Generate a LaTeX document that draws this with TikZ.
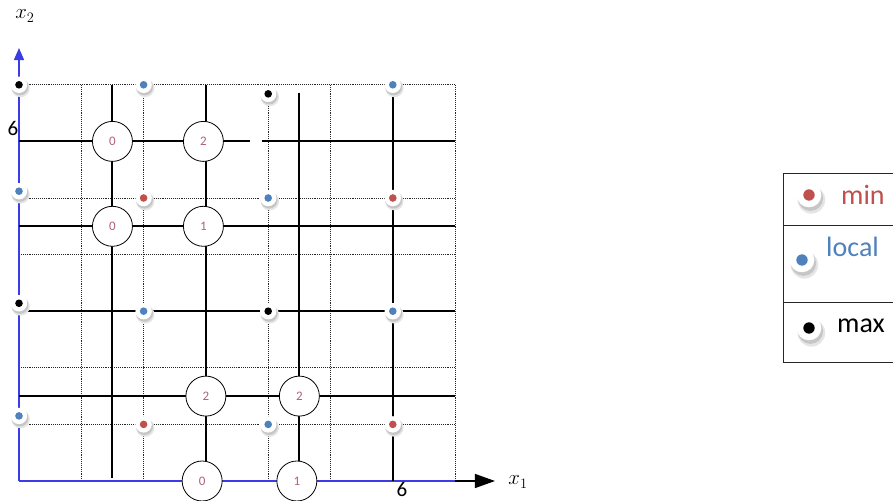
\documentclass[tikz,border=0pt]{standalone}
\usepackage{fontspec}
\setmainfont{Carlito}
\usetikzlibrary{arrows.meta}
\definecolor{cred}{HTML}{C0504D}
\definecolor{cblue}{HTML}{4F81BD}
\definecolor{cpink}{HTML}{B06080}
\definecolor{axblue}{HTML}{3C3CE6}
\newcommand\btn[3]{%
  \begin{scope}[shift={#1},scale=#3]
    \fill[gray!20] (1.6pt,-3.2pt) circle[radius=9.2pt];
    \fill[gray!45] (1.0pt,-2.2pt) circle[radius=8.4pt];
    \fill[white] (0,0) circle[radius=8.2pt];
    \fill[#2] (0,0) circle[radius=3.8pt];
  \end{scope}}
\begin{document}
\begin{tikzpicture}[x=1pt,y=1pt,
  solidline/.style={line width=2pt,black},
  gridline/.style={dash pattern=on 0.8pt off 1.1pt,line width=0.9pt,black!85},
  numc/.style={circle,draw,line width=0.8pt,fill=white,minimum size=40pt,inner sep=0pt,
    font=\fontsize{13}{13}\selectfont,text=cpink},
  lbl/.style={inner sep=0pt,font=\fontsize{21}{21}\selectfont},
  mlbl/.style={inner sep=0pt,font=\fontsize{20}{20}\selectfont},
  legtext/.style={anchor=west,inner sep=0pt,font=\fontsize{28}{28}\selectfont}]
\useasboundingbox (0,0) rectangle (893,500);
\fill[white] (0,0) rectangle (893,500);
\begin{scope}[shift={(19,19)},x=62.3pt,y=56.6pt]
  % dotted grid
  \foreach \i in {1,2,4,5,7} \draw[gridline] (\i,0) -- (\i,7);
  \foreach \j in {1,2,4,5,7} \draw[gridline] (0,\j) -- (7,\j);
  % axes
  \coordinate (O) at (0,0);
  \coordinate (ytip) at (0,7.65);
  \coordinate (xend) at (7,0);
  \coordinate (xtip) at (7.64,0);
  \draw[line width=1.4pt,axblue,-{Triangle[length=12pt,width=10pt]}] (O) -- (ytip);
  \draw[line width=1.4pt,axblue] (O) -- (xend);
  \draw[line width=1.2pt,black,-{Triangle[length=20pt,width=14pt]}] (xend) -- (xtip);
  % solid lines
  \draw[solidline] (0,6) -- (3.71,6);
  \draw[solidline] (3.90,6) -- (7,6);
  \draw[solidline] (0,4.5) -- (7,4.5);
  \draw[solidline] (0,3) -- (7,3);
  \draw[solidline] (0,1.5) -- (7,1.5);
  \draw[solidline] (1.5,7) -- (1.5,0.05);
  \draw[solidline] (3,7) -- (3,0);
  \draw[solidline] (4.5,6.86) -- (4.5,0);
  \draw[solidline] (6,7) -- (6,0);
  % numbered circles
  \node[numc] (a1) at (2.96,6) {2};
  \node[numc] (a0) at (1.5,6) {0};
  \node[numc] (b0) at (1.5,4.5) {0};
  \node[numc] (b1) at (2.96,4.5) {1};
  \node[numc] (c1) at (3,1.5) {2};
  \node[numc] (c2) at (4.5,1.5) {2};
  \node[numc] (d0) at (2.94,0) {0};
  \node[numc] (d1) at (4.46,0) {1};
  % buttons
  \btn{(0,7)}{black}{1}
  \btn{(2,7)}{cblue}{1}
  \btn{(4,6.84)}{black}{1}
  \btn{(6,7)}{cblue}{1}
  \btn{(0,5.12)}{cblue}{1}
  \btn{(2,5)}{cred}{1}
  \btn{(4,5)}{cblue}{1}
  \btn{(6,5)}{cred}{1}
  \btn{(0,3.14)}{black}{1}
  \btn{(2,3)}{cblue}{1}
  \btn{(4,3)}{black}{1}
  \btn{(6,3)}{cblue}{1}
  \btn{(0,1.15)}{cblue}{1}
  \btn{(2,1)}{cred}{1}
  \btn{(4,1)}{cblue}{1}
  \btn{(6,1)}{cred}{1}
\end{scope}
% axis labels
\node[mlbl] (x2) at (25,484) {$x_2$};
\node[mlbl] (x1) at (518,18) {$x_1$};
\node[lbl] (y6) at (13,372) {6};
\node[lbl] (x6) at (402,10.5) {6};
% legend
\draw[line width=0.9pt,black!85] (900,327) -- (783,327) -- (783,138) -- (900,138);
\draw[line width=0.9pt,black!85] (783,275) -- (900,275);
\draw[line width=0.9pt,black!85] (783,198) -- (900,198);
\btn{(809,305)}{cred}{1.5}
\btn{(802,240)}{cblue}{1.5}
\btn{(809,172)}{black}{1.5}
\node[legtext,text=cred] (lmin) at (841,305) {min};
\node[legtext,text=cblue] (lloc) at (826,253) {local};
\node[legtext,text=black] (lmax) at (837,174) {max};
\end{tikzpicture}
\end{document}
